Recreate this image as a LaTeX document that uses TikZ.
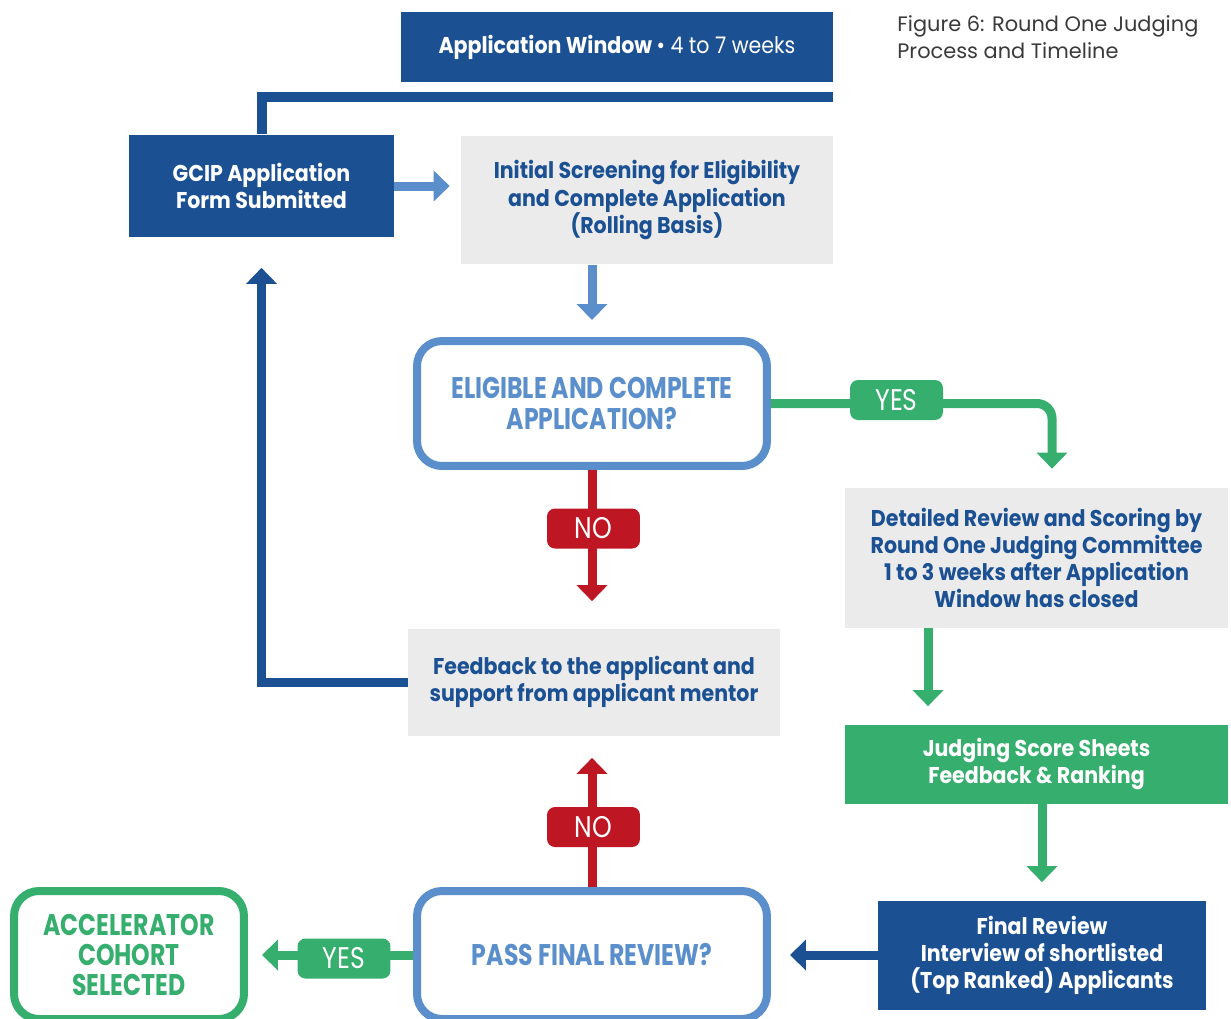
\documentclass[tikz,border=0pt]{standalone}
\usepackage{fontspec}
\setmainfont{Poppins}[FakeStretch=0.9]
\newfontfamily\condfont{Poppins}[FakeStretch=0.79]
\newfontfamily\pillfont{Poppins}[FakeStretch=0.84]
\newfontfamily\capfont{Poppins}
\usepackage{tikz}
\usetikzlibrary{arrows.meta,positioning}

\definecolor{gcipdark}{HTML}{1B5093}
\definecolor{gciplight}{HTML}{5A8FCC}
\definecolor{gcipgreen}{HTML}{35AE6E}
\definecolor{gcipred}{HTML}{BE1622}
\definecolor{gcipgray}{HTML}{EBEBEB}
\definecolor{capgray}{HTML}{3A3A3A}

\begin{document}
\begin{tikzpicture}[x=0.02cm,y=-0.02cm,
  darkbox/.style={fill=gcipdark,text=white,align=center,inner sep=0pt,
    font=\fontsize{13}{15.4}\selectfont\bfseries},
  graybox/.style={darkbox,fill=gcipgray,text=gcipdark},
  greenbox/.style={darkbox,fill=gcipgreen},
  askbox/.style={draw=gciplight,line width=0.16cm,rounded corners=0.5cm,fill=white,
    text=gciplight,align=center,font=\condfont\fontsize{17}{17.2}\selectfont\bfseries},
  endbox/.style={askbox,draw=gcipgreen,text=gcipgreen},
  yespill/.style={fill=gcipgreen,text=white,rounded corners=0.16cm,inner sep=0pt,
    minimum width=1.86cm,minimum height=0.8cm,font=\pillfont\fontsize{17}{17}\selectfont},
  nopill/.style={yespill,fill=gcipred},
  flow/.style={line width=0.18cm,-{Triangle[width=0.6cm,length=0.32cm]}},
  lbflow/.style={flow,gciplight},
  gnflow/.style={flow,gcipgreen},
  rdflow/.style={flow,gcipred},
  dkflow/.style={flow,gcipdark}]
\useasboundingbox (0,0) rectangle (1231,1018);

\node (appwin) at (617,47) [darkbox,minimum width=8.64cm,minimum height=1.4cm]
  {Application Window {\mdseries\textbullet\ 4 to 7 weeks}};
\node (caption) at (897,15) [anchor=north west,align=left,inner sep=0pt,text=capgray,
  font=\capfont\fontsize{11.9}{15.4}\selectfont]
  {Figure 6: Round One Judging\\Process and Timeline};
\node (gcip) at (261.5,186) [darkbox,minimum width=5.3cm,minimum height=2.06cm]
  {GCIP Application\\Form Submitted};
\node (screen) at (647,200) [graybox,minimum width=7.44cm,minimum height=2.58cm]
  {Initial Screening for Eligibility\\and Complete Application\\(Rolling Basis)};
\node (elig) at (592,403.5) [askbox,minimum width=7cm,minimum height=2.5cm]
  {ELIGIBLE AND COMPLETE\\APPLICATION?};
\node (detail) at (1036.5,558) [graybox,minimum width=7.66cm,minimum height=2.8cm]
  {Detailed Review and Scoring by\\Round One Judging Committee\\1 to 3 weeks after Application\\Window has closed};
\node (feedback) at (594,682) [graybox,minimum width=7.44cm,minimum height=2.14cm]
  {Feedback to the applicant and\\support from applicant mentor};
\node (score) at (1036.5,764) [greenbox,minimum width=7.66cm,minimum height=1.58cm]
  {Judging Score Sheets\\Feedback \& Ranking};
\node (final) at (1042,955) [darkbox,minimum width=6.56cm,minimum height=2.18cm]
  {Final Review\\Interview of shortlisted\\(Top Ranked) Applicants};
\node (pass) at (592,955) [askbox,minimum width=7cm,minimum height=2.56cm]
  {PASS FINAL REVIEW?};
\node (accel) at (129,955) [endbox,minimum width=4.6cm,minimum height=2.56cm]
  {ACCELERATOR\\COHORT\\SELECTED};

% timeline bar over the submission box
\coordinate (barend) at (833,97);
\draw [gcipdark,line width=0.2cm] (barend) -| (gcip.north);

\draw [lbflow,shorten >=0.22cm] (gcip.east) -- (screen.west |- gcip.east);
\draw [lbflow,shorten >=0.34cm] (elig.north |- screen.south) -- (elig.north);

\draw [gnflow,rounded corners=0.3cm,shorten >=0.38cm] (elig.east) -| ([xshift=0.31cm]detail.north);
\node (yes1) at (896.5,400) [yespill] {YES};

\draw [rdflow,shorten >=0.54cm] (elig.south) -- (elig.south |- feedback.north);
\node (no1) at (593.5,528.5) [nopill] {NO};

\draw [gnflow,shorten >=0.36cm] ([xshift=-2.17cm]detail.south) -- ([xshift=-2.17cm]detail.south |- score.north);
\draw [gnflow,shorten >=0.36cm] (final.north |- score.south) -- (final.north);
\draw [dkflow,shorten >=0.38cm] (final.west) -- (pass.east |- final.west);

\draw [rdflow,shorten >=0.44cm] (pass.north) -- (pass.north |- feedback.south);
\node (no2) at (593.5,827) [nopill] {NO};

\draw [dkflow,shorten >=0.6cm] (feedback.west) -| (gcip.south);

\draw [gnflow,shorten >=0.28cm] (pass.west) -- (accel.east |- pass.west);
\node (yes2) at (344,958.5) [yespill] {YES};
\end{tikzpicture}
\end{document}
